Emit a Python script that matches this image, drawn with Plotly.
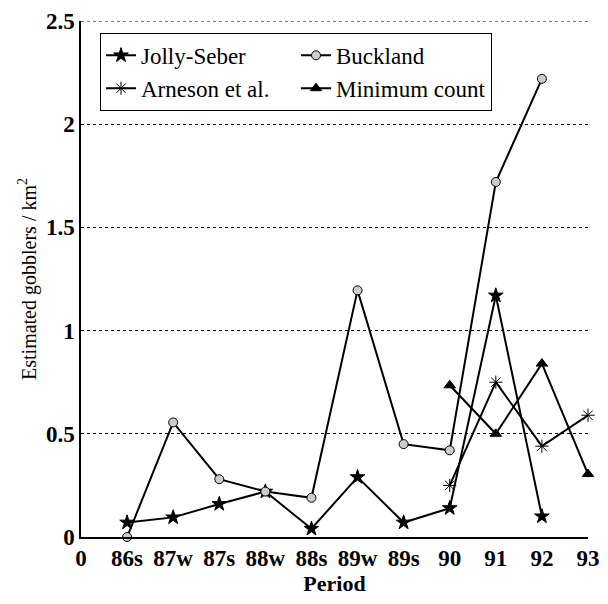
import plotly.graph_objects as go

categories = ["0", "86s", "87w", "87s", "88w", "88s", "89w", "89s", "90", "91", "92", "93"]

jolly_x = ["86s", "87w", "87s", "88w", "88s", "89w", "89s", "90", "91", "92"]
jolly_y = [0.07, 0.095, 0.16, 0.22, 0.04, 0.29, 0.07, 0.14, 1.17, 0.10]

buck_x = ["86s", "87w", "87s", "88w", "88s", "89w", "89s", "90", "91", "92"]
buck_y = [0.0, 0.555, 0.28, 0.22, 0.19, 1.195, 0.45, 0.42, 1.72, 2.22]

arn_x = ["90", "91", "92", "93"]
arn_y = [0.25, 0.75, 0.44, 0.59]

min_x = ["90", "91", "92", "93"]
min_y = [0.735, 0.50, 0.84, 0.305]

y_ticks = [0, 0.5, 1, 1.5, 2, 2.5]
y_ticktext = ["0", "0.5", "1", "1.5", "2", "2.5"]

idx = {c: i for i, c in enumerate(categories)}
FONT = "Liberation Serif, Times New Roman, serif"

fig = go.Figure()

def add(name, xs, ys, symbol, color, line_color="black", size=10):
    fig.add_trace(go.Scatter(
        x=[idx[c] for c in xs], y=ys, name=name, mode="lines+markers",
        line=dict(color="black", width=2),
        marker=dict(symbol=symbol, size=size, color=color,
                    line=dict(color=line_color, width=1)),
        cliponaxis=False,
    ))

add("Jolly-Seber", jolly_x, jolly_y, "star", "black", size=11)
add("Buckland", buck_x, buck_y, "circle", "#cccccc", size=9)
add("Arneson et al.", arn_x, arn_y, "asterisk-open", "black", line_color="black", size=11)
add("Minimum count", min_x, min_y, "triangle-up", "black", size=10)

# top dotted grid line at the top of the value range
fig.add_shape(type="line", xref="paper", yref="y", x0=0, x1=1, y0=y_ticks[-1], y1=y_ticks[-1],
              line=dict(color="black", width=1, dash="dot"), layer="below")

# page body has an 8px margin on every side: keep the figure inside the window
fig.update_layout(
    width=592, height=588,
    margin=dict(l=73, r=12, t=13, b=59, autoexpand=False),
    paper_bgcolor="white", plot_bgcolor="white",
    font=dict(family=FONT, color="black", size=18),
    showlegend=True,
    legend=dict(
        orientation="h", x=0.0375, y=0.977, xanchor="left", yanchor="top",
        bordercolor="black", borderwidth=1, bgcolor="white",
        font=dict(family=FONT, size=23, color="black"),
        entrywidth=150, itemwidth=30, tracegroupgap=0,
    ),
    xaxis=dict(
        range=[0, 11], tickmode="array", automargin=False, ticklabeloverflow="allow",
        tickvals=list(range(len(categories))), ticktext=categories,
        showgrid=False, zeroline=False, showline=True, linecolor="black", linewidth=1.5,
        ticks="", tickfont=dict(family=FONT, size=23, color="black", weight="bold"),
        title=dict(text="Period", font=dict(family=FONT, size=22, weight="bold"), standoff=10),
    ),
    yaxis=dict(
        range=[0, 2.5], tickvals=y_ticks, ticktext=y_ticktext,
        automargin=False, ticklabeloverflow="allow",
        showgrid=True, gridcolor="black", griddash="dot", gridwidth=1,
        zeroline=False, showline=True, linecolor="black", linewidth=1.5,
        ticks="", tickfont=dict(family=FONT, size=23, color="black", weight="bold"),
        title=dict(text="Estimated gobblers / km<sup>2</sup>", font=dict(family=FONT, size=20, color="black"), standoff=4),
    ),
)

fig.write_html("out.html")
